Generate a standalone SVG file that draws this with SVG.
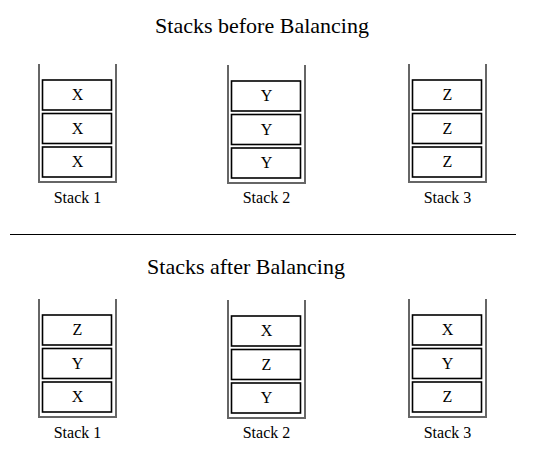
<svg xmlns="http://www.w3.org/2000/svg" width="533" height="468" viewBox="0 0 533 468">
<style>
.title{font-family:"Liberation Serif","Times New Roman",serif;font-size:22px;fill:#000;text-anchor:middle}
.wall{fill:none;stroke:#666;stroke-width:2}
.box{fill:#fff;stroke:#000;stroke-width:1.6}
.item{font-family:"Liberation Serif","Times New Roman",serif;font-size:16px;fill:#000;text-anchor:middle}
.label{font-family:"Liberation Serif","Times New Roman",serif;font-size:16px;fill:#000;text-anchor:middle}
.sep{stroke:#000;stroke-width:1.2}
</style>
<defs>
<g id="cont">
<polyline class="wall" points="0,0 0,118 77,118 77,0"/>
<rect class="box" x="3.5" y="16" width="69" height="30"/>
<rect class="box" x="3.5" y="49.5" width="69" height="30"/>
<rect class="box" x="3.5" y="83" width="69" height="30"/>
</g>
</defs>
<text class="title" x="262" y="33">Stacks before Balancing</text>
<line class="sep" x1="10" y1="234.5" x2="516" y2="234.5"/>
<text class="title" x="246" y="274">Stacks after Balancing</text>

<g id="before-stack1" transform="translate(39,64)">
<use href="#cont"/>
<text class="item" x="38.5" y="36">X</text>
<text class="item" x="38.5" y="69.5">X</text>
<text class="item" x="38.5" y="103">X</text>
<text class="label" x="38.5" y="138.5">Stack 1</text>
</g>
<g id="before-stack2" transform="translate(228,65)">
<use href="#cont"/>
<text class="item" x="38.5" y="36">Y</text>
<text class="item" x="38.5" y="69.5">Y</text>
<text class="item" x="38.5" y="103">Y</text>
<text class="label" x="38.5" y="137.5">Stack 2</text>
</g>
<g id="before-stack3" transform="translate(409,64)">
<use href="#cont"/>
<text class="item" x="38.5" y="36">Z</text>
<text class="item" x="38.5" y="69.5">Z</text>
<text class="item" x="38.5" y="103">Z</text>
<text class="label" x="38.5" y="138.5">Stack 3</text>
</g>

<g id="after-stack1" transform="translate(39,299)">
<use href="#cont"/>
<text class="item" x="38.5" y="36">Z</text>
<text class="item" x="38.5" y="69.5">Y</text>
<text class="item" x="38.5" y="103">X</text>
<text class="label" x="38.5" y="139">Stack 1</text>
</g>
<g id="after-stack2" transform="translate(228,300)">
<use href="#cont"/>
<text class="item" x="38.5" y="36">X</text>
<text class="item" x="38.5" y="69.5">Z</text>
<text class="item" x="38.5" y="103">Y</text>
<text class="label" x="38.5" y="138">Stack 2</text>
</g>
<g id="after-stack3" transform="translate(409,299)">
<use href="#cont"/>
<text class="item" x="38.5" y="36">X</text>
<text class="item" x="38.5" y="69.5">Y</text>
<text class="item" x="38.5" y="103">Z</text>
<text class="label" x="38.5" y="139">Stack 3</text>
</g>
<g id="connectors"/>
</svg>
